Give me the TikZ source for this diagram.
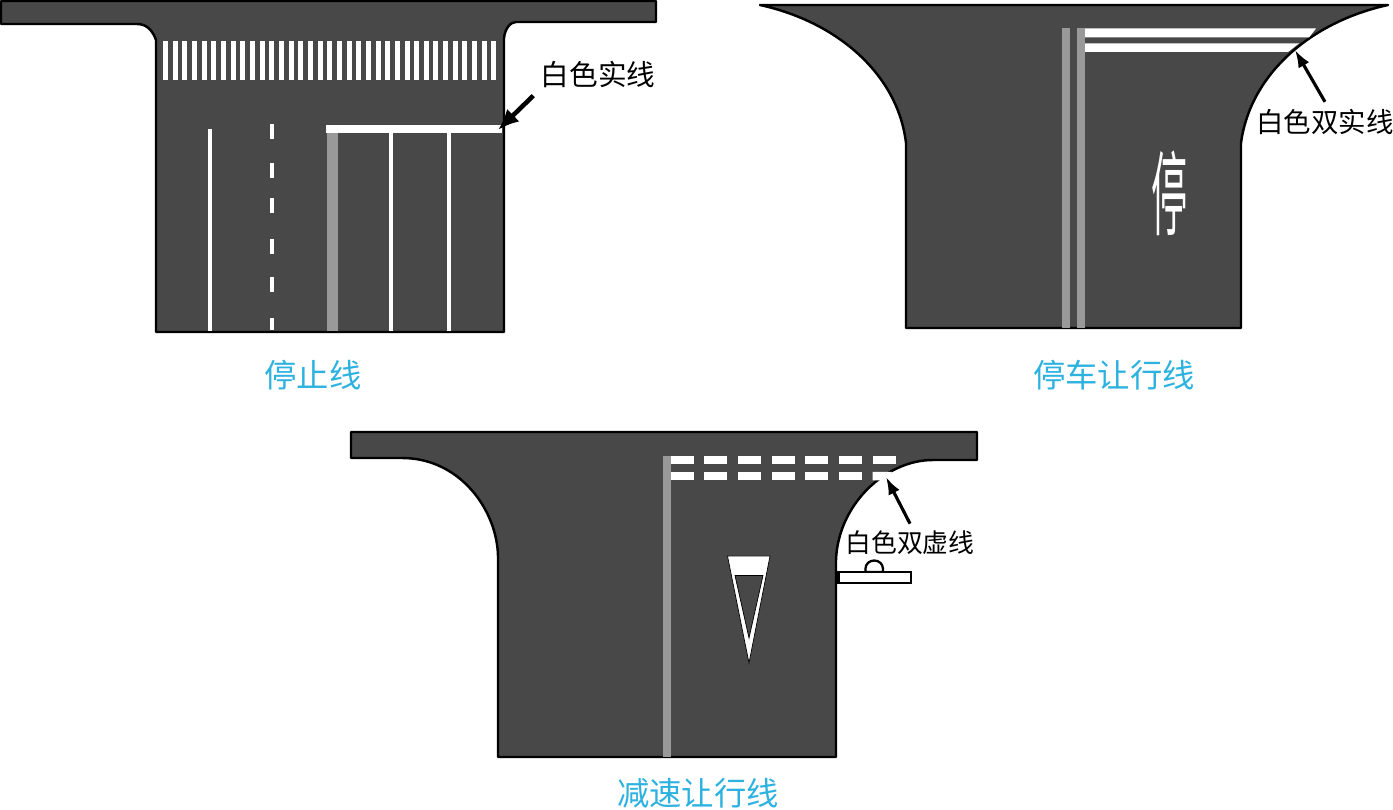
\documentclass[tikz,border=0pt]{standalone}
\usepackage{fontspec}
\setmainfont{Noto Sans CJK SC}
\usepackage{xcolor}
\usetikzlibrary{arrows.meta, calc, positioning}
\definecolor{roadgrey}{RGB}{72, 72, 72}
\definecolor{markgrey}{RGB}{153, 153, 153}
\definecolor{captionblue}{RGB}{45, 178, 224}

\begin{document}
\begin{tikzpicture}[
		x=0.02cm, y=-0.02cm,
		road/.style = {fill=roadgrey, draw=black, line width=1.4pt, line join=round},
		whitemark/.style = {fill=white},
		greymark/.style = {fill=markgrey},
		thinline/.style = {draw=white, line width=1.8pt},
		calltext/.style = {text=black, inner sep=4pt, font=\fontsize{15.6}{16}\selectfont},
		captiontext/.style = {text=captionblue, font=\fontsize{18.4}{19}\selectfont},
		signline/.style = {fill=white, draw=black, line width=1.3pt},
		leader/.style = {draw=black, line width=1.8pt, -{Latex[length=10pt, width=7pt]}},
		leaderbig/.style = {draw=black, line width=2.6pt, -{Latex[length=12pt, width=10pt]}}
		]
		\useasboundingbox (0,0) rectangle (1393,810);
		
		% stop line
		\draw[road] (1,1) -- (656,1) -- (656,22) -- (516,22) .. controls (510,22) and (505,29) .. (504,38)
			-- (504,332) -- (156,332) -- (156,40) .. controls (153,32) and (148,24) .. (137,24) -- (1,24) -- cycle;
		\foreach \n in {0,...,34}
			\fill[whitemark] ({163+9.66*\n},41) rectangle ++(5,39);
		\draw[thinline] (210,129) -- (210,331);
		\foreach \a/\b in {124/139, 163/178, 198/213, 239/254, 277/292, 318/330}
			\draw[thinline] (272,\a) -- (272,\b);
		\fill[greymark] (327,133) rectangle (338,331);
		\fill[whitemark] (326,125) rectangle (502,133);
		\draw[thinline] (391,133) -- (391,331);
		\draw[thinline] (449,133) -- (449,331);
		\node [calltext, font=\fontsize{16.3}{17}\selectfont] (stoptext) at (598,75) {白色实线};
		\coordinate (stoptip) at (498,130);
		\draw[leaderbig] (stoptext.south west) -- (stoptip);
		\node [captiontext] (stopcaption) at (313,375) {停止线};
		
		% parking yield line
		\draw[road] (760,5) -- (1388,5) .. controls (1310,22) and (1250,75) .. (1241,143)
			-- (1241,328) -- (906,328) -- (906,143) .. controls (898,75) and (838,22) .. (760,5) -- cycle;
		\fill[greymark] (1062,28) rectangle (1070,328);
		\fill[greymark] (1077,28) rectangle (1085,328);
		\fill[whitemark] (1085,28.5) -- (1316,28.5) -- (1309,37.5) -- (1085,37.5) -- cycle;
		\fill[whitemark] (1085,43.5) -- (1299,43.5) -- (1288,52) -- (1085,52) -- cycle;
		\node [text=white, transform shape, yscale=2.55, font=\fontsize{20.5}{21}\selectfont, inner sep=0pt] (stopchar) at (1169,193) {停};
		\node [calltext] (doubletext) at (1325,122) {白色双实线};
		\coordinate (doubletip) at (1295,50);
		\draw[leader] (doubletext.north) -- (doubletip);
		\node [captiontext] (parkcaption) at (1114,375) {停车让行线};
		
		% slow yield line
		\draw[road] (351,432) -- (977,432) -- (977,460) -- (933,460) .. controls (885,460) and (838,505) .. (836,560)
			-- (836,757) -- (498,757) -- (498,556) .. controls (497,510) and (460,458) .. (402,458) -- (351,458) -- cycle;
		\fill[greymark] (662.5,456) rectangle (670.5,757);
		\foreach \n in {0,...,6} {
			\fill[whitemark] ({670.5+33.7*\n},456) rectangle ++(23,8.5);
		}
		\foreach \n in {0,...,5} {
			\fill[whitemark] ({670.5+33.7*\n},472) rectangle ++(23,8.5);
		}
		\fill[whitemark] (872.7,472) -- (892,472) -- (884,480.5) -- (872.7,480.5) -- cycle;
		\draw[fill=white, draw=black, line width=0.4pt] (727.5,556) -- (770,556) -- (749,663) -- cycle;
		\draw[fill=roadgrey, draw=black, line width=0.4pt] (735,575.5) -- (763,575.5) -- (749,638) -- cycle;
		\draw[signline] (865.5,572) -- (865.5,568.5) arc[start angle=180, end angle=360, x radius=8.7, y radius=8] -- (883,572) -- cycle;
		\draw[signline] (838.5,572) rectangle (911,583);
		\node [calltext, font=\fontsize{14.7}{15}\selectfont] (dashtext) at (910,543) {白色双虚线};
		\coordinate (dashtip) at (886,477);
		\draw[leader] (dashtext.north) -- (dashtip);
		\node [captiontext] (slowcaption) at (698,793) {减速让行线};
		
		\end{tikzpicture}
\end{document}
